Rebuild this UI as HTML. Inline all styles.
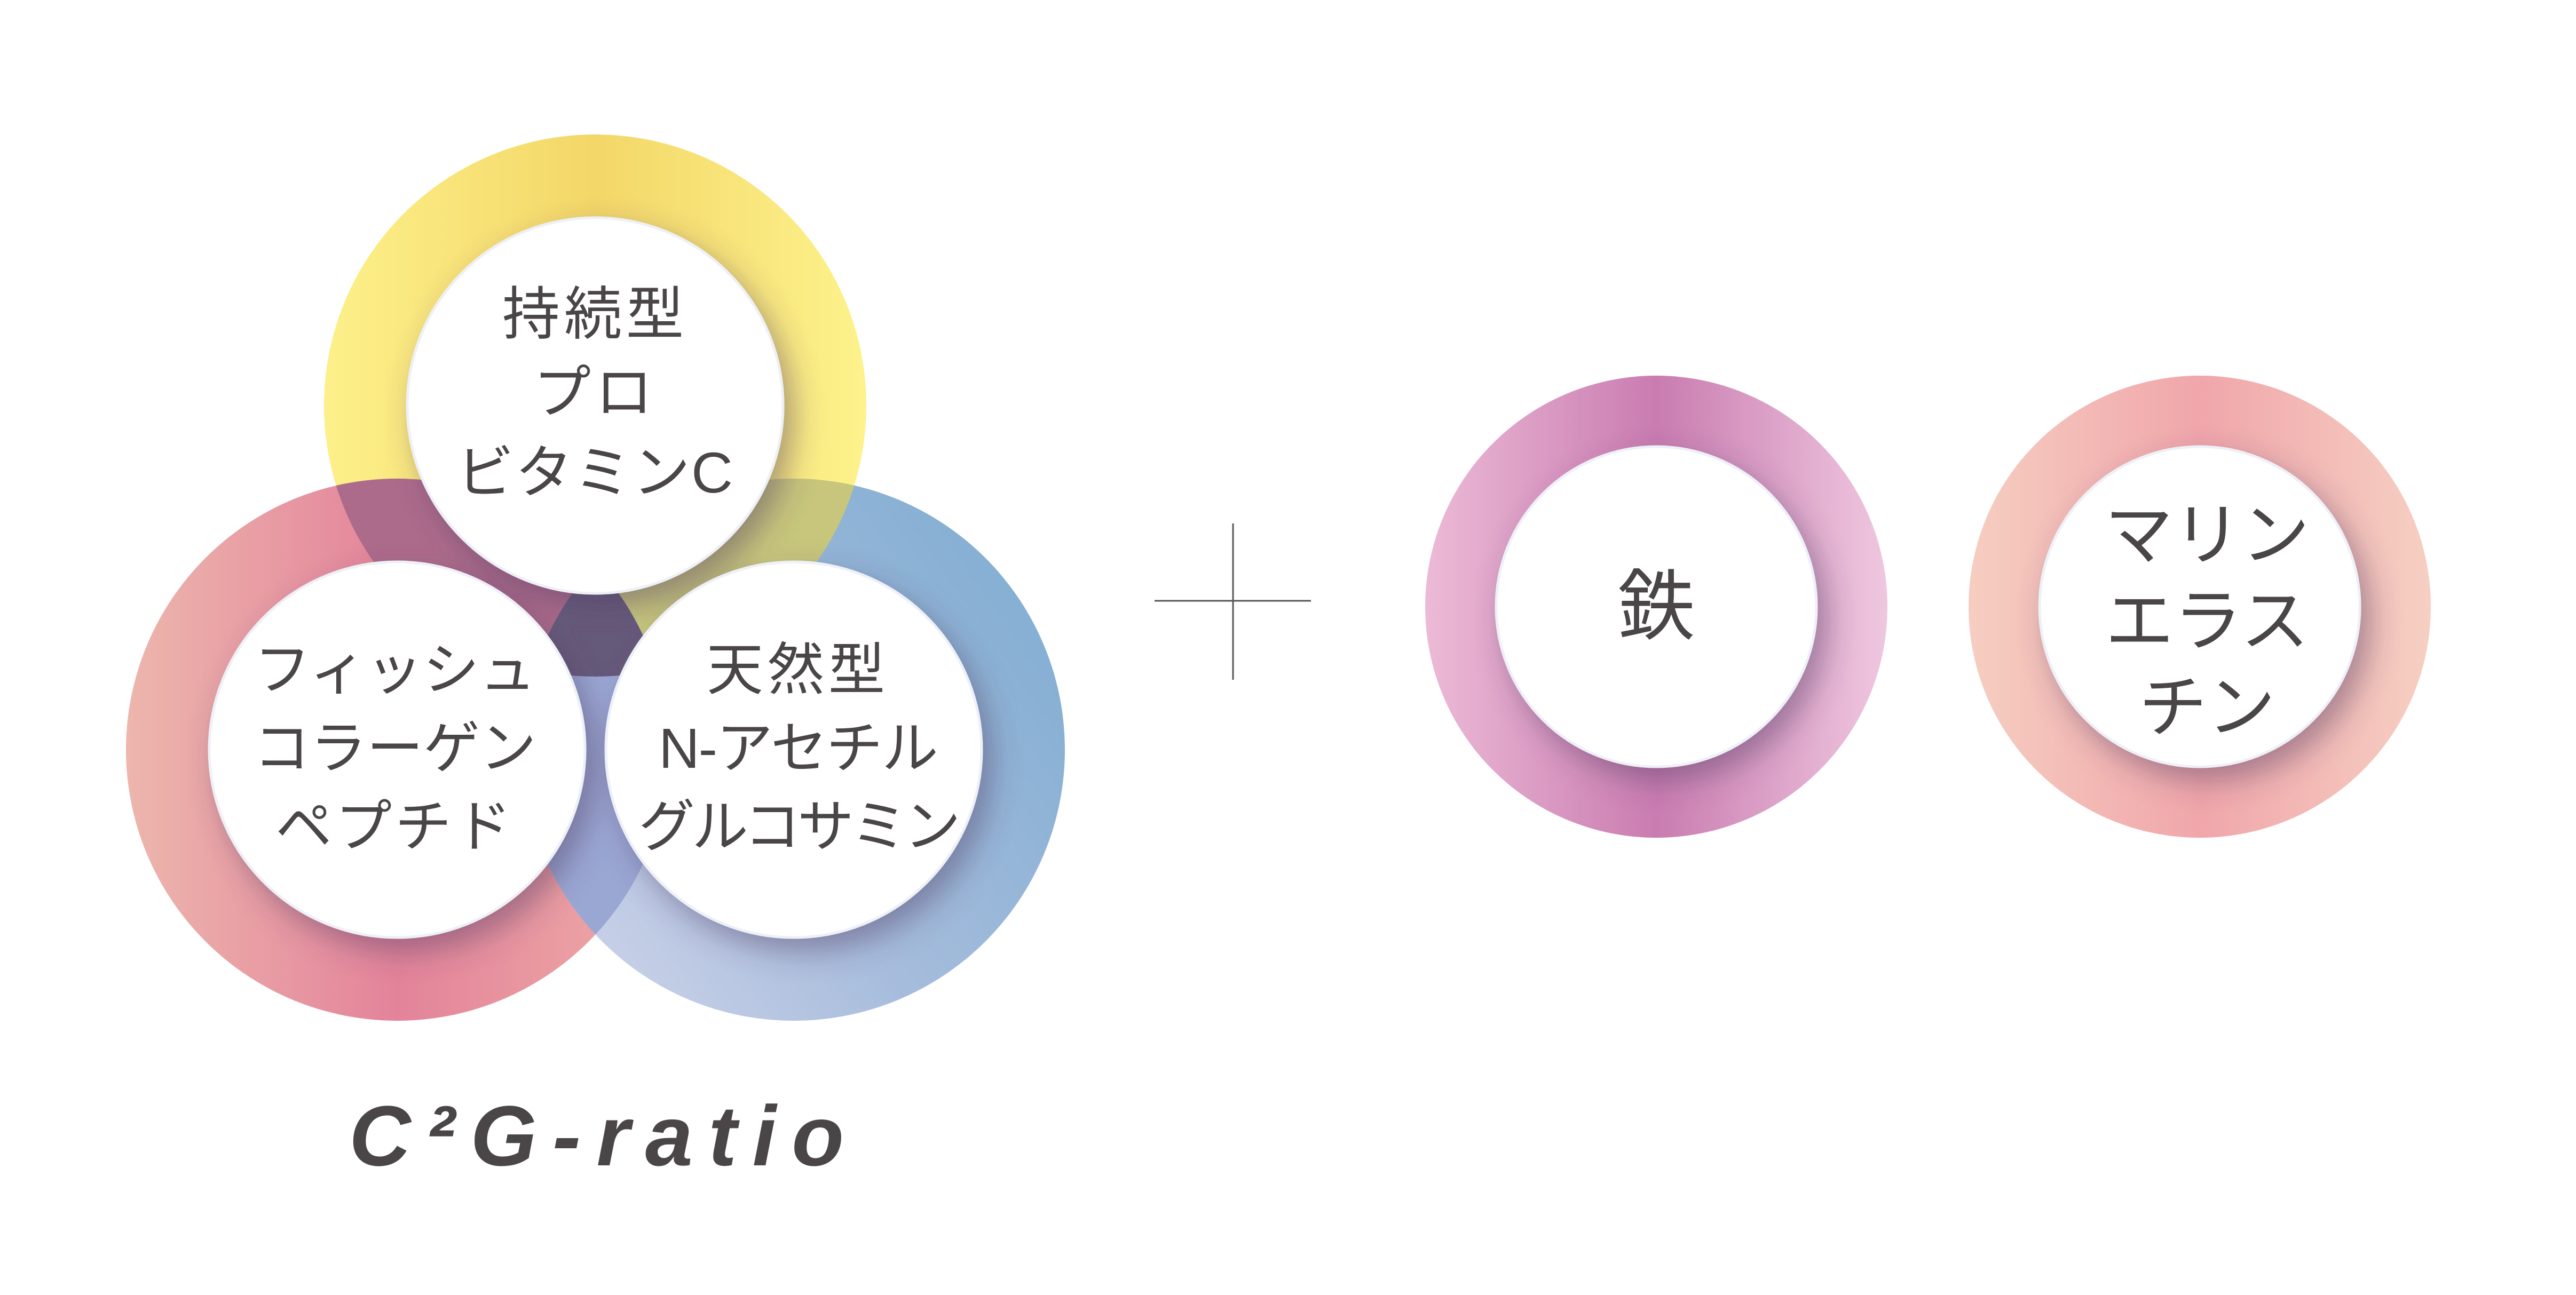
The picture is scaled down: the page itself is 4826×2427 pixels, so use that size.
<!DOCTYPE html>
<html><head><meta charset="utf-8">
<style>
html,body{margin:0;padding:0;background:#fff;}
svg{display:block;}
text{font-family:"Liberation Sans","Noto Sans CJK JP",sans-serif;fill:#4a4546;}
</style></head>
<body>
<svg width="4826" height="2427" viewBox="0 0 4826 2427" xmlns="http://www.w3.org/2000/svg">
<defs>
  <linearGradient id="gy" x1="0" y1="0" x2="1" y2="0">
    <stop offset="0" stop-color="#fdf08a"/>
    <stop offset="0.5" stop-color="#f3d768"/>
    <stop offset="1" stop-color="#fdf28c"/>
  </linearGradient>
  <linearGradient id="gp" x1="0" y1="0" x2="1" y2="0">
    <stop offset="0" stop-color="#edb6ad"/>
    <stop offset="0.5" stop-color="#e3839a"/>
    <stop offset="1" stop-color="#eeaca6"/>
  </linearGradient>
  <linearGradient id="gb" x1="0" y1="1" x2="1" y2="0.3">
    <stop offset="0" stop-color="#d6d8ec"/>
    <stop offset="0.5" stop-color="#a6bcdc"/>
    <stop offset="1" stop-color="#84afd3"/>
  </linearGradient>
  <linearGradient id="gv" x1="0" y1="0" x2="1" y2="0">
    <stop offset="0" stop-color="#ecbad6"/>
    <stop offset="0.5" stop-color="#c97cb0"/>
    <stop offset="1" stop-color="#efc7df"/>
  </linearGradient>
  <linearGradient id="gs" x1="0" y1="0" x2="1" y2="0">
    <stop offset="0" stop-color="#f6cec1"/>
    <stop offset="0.5" stop-color="#f0a6aa"/>
    <stop offset="1" stop-color="#f6cfc2"/>
  </linearGradient>
  <clipPath id="cY"><circle cx="1115" cy="760" r="508"/></clipPath>
  <clipPath id="cP"><circle cx="744" cy="1405" r="508"/></clipPath>
  <clipPath id="cB"><circle cx="1487" cy="1405" r="508"/></clipPath>
  <filter id="sh" x="-30%" y="-30%" width="160%" height="160%">
    <feDropShadow dx="18" dy="24" stdDeviation="28" flood-color="#503c64" flood-opacity="0.45"/>
  </filter>
</defs>

<circle cx="1115" cy="760" r="508" fill="url(#gy)"/>
<circle cx="744" cy="1405" r="508" fill="url(#gp)"/>
<circle cx="1487" cy="1405" r="508" fill="url(#gb)"/>
<g clip-path="url(#cY)">
  <circle cx="744" cy="1405" r="508" fill="#ad6b8b"/>
  <circle cx="1487" cy="1405" r="508" fill="#c7c67c"/>
</g>
<g clip-path="url(#cP)">
  <circle cx="1487" cy="1405" r="508" fill="#9aa7d3"/>
</g>
<g clip-path="url(#cY)"><g clip-path="url(#cP)">
  <circle cx="1487" cy="1405" r="508" fill="#665a7a"/>
</g></g>

<g filter="url(#sh)">
  <circle cx="1115" cy="760" r="352" fill="#fff" stroke="#eef0f8" stroke-width="5"/>
  <circle cx="744" cy="1405" r="352" fill="#fff" stroke="#eef0f8" stroke-width="5"/>
  <circle cx="1487" cy="1405" r="352" fill="#fff" stroke="#eef0f8" stroke-width="5"/>
</g>

<g font-size="108" text-anchor="middle">
  <text x="1115" y="626" letter-spacing="8">持続型</text>
  <text x="1115" y="773" letter-spacing="8">プロ</text>
  <text x="1115" y="923" letter-spacing="2">ビタミンC</text>
</g>
<g font-size="106" text-anchor="middle">
  <text x="740" y="1292" letter-spacing="0">フィッシュ</text>
  <text x="740" y="1439" letter-spacing="0">コラーゲン</text>
  <text x="740" y="1586" letter-spacing="6">ペプチド</text>
  <text x="1495" y="1292" letter-spacing="8">天然型</text>
  <text x="1495" y="1439" letter-spacing="-2">N-アセチル</text>
  <text x="1495" y="1586" letter-spacing="-6">グルコサミン</text>
</g>

<text x="654" y="2184" font-size="160" font-weight="bold" font-style="italic" textLength="927" lengthAdjust="spacing">C²G-ratio</text>

<line x1="2163" y1="1126" x2="2456" y2="1126" stroke="#555" stroke-width="3"/>
<line x1="2310" y1="981" x2="2310" y2="1274" stroke="#555" stroke-width="3"/>

<circle cx="3103" cy="1137" r="433" fill="url(#gv)"/>
<circle cx="4121" cy="1137" r="433" fill="url(#gs)"/>
<g filter="url(#sh)">
  <circle cx="3103" cy="1137" r="300" fill="#fff" stroke="#eef0f8" stroke-width="5"/>
  <circle cx="4121" cy="1137" r="300" fill="#fff" stroke="#eef0f8" stroke-width="5"/>
</g>
<g text-anchor="middle">
  <text x="3103" y="1187" font-size="145">鉄</text>
  <text x="4135" y="1047" font-size="128">マリン</text>
  <text x="4135" y="1208" font-size="128">エラス</text>
  <text x="4135" y="1370" font-size="128">チン</text>
</g>
</svg>
</body></html>
